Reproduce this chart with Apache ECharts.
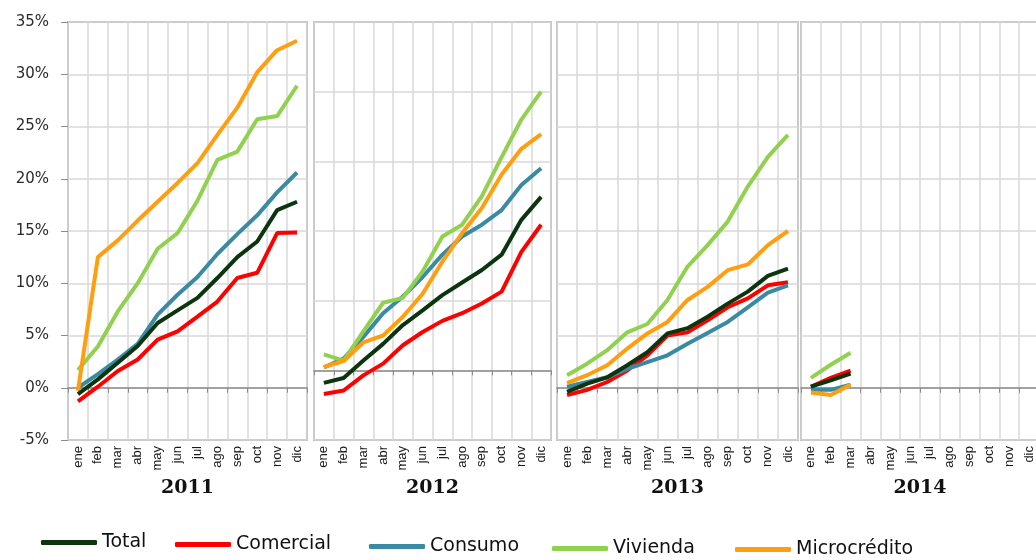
<!DOCTYPE html>
<html>
<head>
<meta charset="utf-8">
<script src="https://cdn.jsdelivr.net/npm/echarts@6/dist/echarts.min.js"></script>
<style>
  html, body { margin: 0; padding: 0; background: #fff; }
  #chart { width: 1036px; height: 560px; }
</style>
</head>
<body>
<div id="chart"></div>
<script>
const months = ['ene', 'feb', 'mar', 'abr', 'may', 'jun', 'jul', 'ago', 'sep', 'oct', 'nov', 'dic'];
const years = ['2011', '2012', '2013', '2014'];

// one list per year (2011..2014), values in %
const total = [
  [-0.6, 0.8, 2.4, 4.0, 6.2, 7.4, 8.6, 10.5, 12.5, 14.0, 17.0, 17.8],
  [-0.9, -0.55, 0.7, 1.9, 3.25, 4.3, 5.4, 6.3, 7.2, 8.3, 10.8, 12.45],
  [-0.4, 0.4, 1.0, 2.15, 3.4, 5.2, 5.7, 6.8, 8.05, 9.2, 10.7, 11.4],
  [0.1, 0.7, 1.35]
];
const comercial = [
  [-1.3, 0.1, 1.6, 2.7, 4.6, 5.4, 6.8, 8.25, 10.5, 11.0, 14.8, 14.85],
  [-1.7, -1.45, -0.36, 0.48, 1.8, 2.75, 3.55, 4.1, 4.8, 5.65, 8.5, 10.45],
  [-0.7, -0.2, 0.55, 1.65, 3.1, 5.0, 5.3, 6.45, 7.7, 8.55, 9.8, 10.1],
  [0.1, 0.95, 1.65]
];
const consumo = [
  [0.0, 1.3, 2.7, 4.2, 7.0, 8.9, 10.6, 12.8, 14.7, 16.5, 18.7, 20.6],
  [0.2, 0.85, 2.4, 4.1, 5.3, 6.7, 8.3, 9.6, 10.45, 11.5, 13.3, 14.5],
  [0.1, 0.55, 1.0, 1.8, 2.45, 3.1, 4.2, 5.25, 6.3, 7.7, 9.1, 9.8],
  [-0.2, -0.2, 0.3]
];
const vivienda = [
  [1.7, 3.95, 7.3, 10.0, 13.3, 14.8, 17.9, 21.8, 22.6, 25.7, 26.0, 28.9],
  [1.15, 0.7, 2.8, 4.85, 5.2, 7.1, 9.6, 10.45, 12.5, 15.3, 18.0, 20.0],
  [1.2, 2.3, 3.6, 5.3, 6.1, 8.4, 11.6, 13.65, 15.9, 19.25, 22.1, 24.2],
  [0.95, 2.2, 3.35]
];
const microcredito = [
  [-0.3, 12.5, 14.1, 16.0, 17.8, 19.6, 21.5, 24.2, 26.8, 30.2, 32.3, 33.2],
  [0.24, 0.67, 2.0, 2.5, 3.85, 5.5, 7.8, 9.85, 11.65, 14.05, 15.9, 16.95],
  [0.45, 1.2, 2.15, 3.75, 5.2, 6.3, 8.4, 9.65, 11.25, 11.8, 13.65, 15.0],
  [-0.45, -0.7, 0.3]
];
// y axis range per panel (the 2012 panel has its own scale)
const yMax = [35, 25, 35, 35];
const yMin = -5;

const lines = [
  {name: 'Comercial', data: comercial, color: '#ff0000'},
  {name: 'Consumo', data: consumo, color: '#3a8aa3'},
  {name: 'Vivienda', data: vivienda, color: '#92d050'},
  {name: 'Microcrédito', data: microcredito, color: '#ff9f0f'},
  {name: 'Total', data: total, color: '#0b340f'}
];

// last panel runs past the right edge of the picture
const panels = [
  {left: 68, width: 239},
  {left: 314, width: 237},
  {left: 557, width: 241},
  {left: 801, width: 238}
];

const gridColor = '#d9d9d9';
const borderColor = '#8c8c8c';

const grid = [], xAxis = [], yAxis = [], series = [];

panels.forEach((p, i) => {
  grid.push({
    left: p.left, width: p.width, top: 22, height: 418,
    outerBoundsMode: 'none',
    show: true, borderColor: borderColor, borderWidth: 1.5
  });
  // month labels + year name at the bottom
  xAxis.push({
    gridIndex: i, type: 'category', data: months, position: 'bottom',
    axisLine: {show: false, onZero: false},
    axisTick: {show: false},
    axisLabel: {
      rotate: 90, margin: 6, interval: 0, color: '#1a1a1a',
      fontSize: 13, fontFamily: 'Liberation Sans Narrow, Liberation Sans, sans-serif'
    },
    splitLine: {show: true, interval: 0, lineStyle: {color: gridColor, width: 1.5}},
    name: years[i], nameLocation: 'middle', nameGap: 37,
    nameTextStyle: {fontSize: 19, fontWeight: 'bold', color: '#111', fontFamily: 'DejaVu Serif'}
  });
  yAxis.push({
    gridIndex: i, type: 'value', min: yMin, max: yMax[i], interval: 5,
    axisLine: {show: false},
    axisTick: {show: i === 0, length: 7, lineStyle: {color: borderColor}},
    axisLabel: {
      show: i === 0, formatter: '{value}%', margin: 19,
      fontSize: 15, color: '#2a2a2a', fontFamily: 'DejaVu Sans'
    },
    splitLine: {lineStyle: {color: gridColor, width: 1.5}}
  });
});

// second x axis per panel: just the line across 0%
panels.forEach((p, i) => {
  xAxis.push({
    gridIndex: i, type: 'category', data: months, position: 'bottom',
    axisLine: {show: true, onZero: true, lineStyle: {color: borderColor, width: 1.5}},
    axisTick: {show: true, length: 5, interval: 0, lineStyle: {color: borderColor}},
    axisLabel: {show: false},
    splitLine: {show: false}
  });
});

panels.forEach((p, i) => {
  lines.forEach(l => {
    series.push({
      type: 'line', name: l.name, xAxisIndex: i, yAxisIndex: i,
      data: l.data[i], symbol: 'none', silent: true,
      lineStyle: {width: 4, color: l.color},
      itemStyle: {color: l.color}
    });
  });
});

// legend items are spread out like the original
const legendPos = [
  {name: 'Total', left: 41, top: 533},
  {name: 'Comercial', left: 175, top: 535},
  {name: 'Consumo', left: 369, top: 537},
  {name: 'Vivienda', left: 552, top: 539},
  {name: 'Microcrédito', left: 735, top: 540}
];
const legend = legendPos.map(lp => ({
  data: [lp.name], left: lp.left, top: lp.top, padding: 0,
  icon: 'roundRect', itemWidth: 56, itemHeight: 5, itemGap: 0,
  textStyle: {fontSize: 19, color: '#111', fontFamily: 'DejaVu Sans'},
  selectedMode: false
}));

const chart = echarts.init(document.getElementById('chart'));
chart.setOption({
  backgroundColor: '#fff',
  animation: false,
  grid: grid,
  xAxis: xAxis,
  yAxis: yAxis,
  legend: legend,
  series: series
});
</script>
</body>
</html>
